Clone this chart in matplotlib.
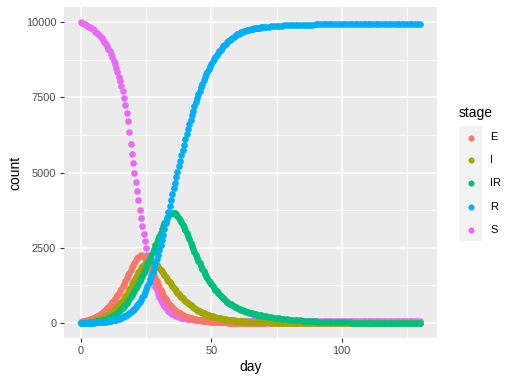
import matplotlib
matplotlib.use("Agg")
import matplotlib.pyplot as plt
from matplotlib.patches import Rectangle
from matplotlib.lines import Line2D

plt.rcParams['font.family'] = ['Liberation Sans', 'DejaVu Sans']

# counts: every half day up to day 70, then daily
day = [i / 2 for i in range(141)] + list(range(71, 131))

S = [10000, 9975, 9950, 9925, 9900, 9875, 9850, 9820, 9790, 9755,
     9720, 9680, 9640, 9600, 9560, 9510, 9460, 9405, 9350, 9280,
     9200, 9120, 9030, 8930, 8830, 8720, 8600, 8470, 8340, 8190,
     8040, 7880, 7700, 7490, 7250, 6990, 6700, 6340, 5950, 5620,
     5300, 5000, 4700, 4390, 4080, 3770, 3480, 3210, 2950, 2710,
     2480, 2260, 2060, 1860, 1680, 1510, 1350, 1210, 1080, 965,
     860, 770, 690, 620, 555, 500, 452, 410, 372, 340,
     310, 284, 260, 240, 222, 206, 192, 180, 169, 160,
     152, 144, 137, 131, 125, 120, 115, 111, 107, 103,
     100, 97, 94, 91, 89, 87, 85, 83, 81, 80,
     78, 77, 76, 75, 74, 73, 72, 71, 70, 70,
     69, 68, 68, 67, 67, 66, 66, 65, 65, 65,
     64, 64, 64, 63, 63, 63, 62, 62, 62, 62,
     61, 61, 61, 61, 61, 60, 60, 60, 60, 60,
     60] + [60] * 60

E = [40, 50, 60, 70, 80, 92, 105, 120, 135, 152,
     170, 192, 215, 242, 270, 302, 335, 372, 410, 452,
     495, 542, 590, 642, 695, 752, 810, 872, 935, 1002,
     1070, 1145, 1225, 1310, 1400, 1490, 1580, 1670, 1760, 1845,
     1930, 2005, 2080, 2145, 2200, 2230, 2250, 2240, 2210, 2165,
     2110, 2040, 1960, 1870, 1780, 1680, 1580, 1485, 1390, 1295,
     1200, 1110, 1025, 945, 865, 790, 720, 665, 610, 560,
     515, 475, 440, 405, 375, 345, 318, 292, 268, 245,
     225, 207, 190, 175, 162, 150, 138, 127, 117, 108,
     100, 92, 85, 78, 72, 66, 61, 56, 52, 48,
     44, 41, 38, 35, 32, 30, 27, 25, 23, 21,
     20, 18, 17, 15, 14, 13, 12, 11, 10, 9,
     9, 8, 7, 7, 6, 6, 5, 5, 4, 4,
     4, 3, 3, 3, 3, 2, 2, 2, 2, 2,
     1] + [1] * 10 + [0] * 50

I = [0, 5, 10, 15, 20, 27, 35, 42, 50, 60,
     70, 82, 95, 110, 125, 142, 160, 180, 200, 225,
     250, 280, 310, 345, 380, 420, 460, 505, 550, 600,
     650, 710, 770, 835, 900, 970, 1040, 1120, 1200, 1280,
     1360, 1440, 1520, 1600, 1680, 1750, 1820, 1880, 1930, 1975,
     2010, 2035, 2050, 2055, 2050, 2030, 2000, 1965, 1920, 1870,
     1820, 1765, 1710, 1650, 1590, 1530, 1470, 1410, 1350, 1290,
     1230, 1175, 1120, 1065, 1010, 960, 910, 865, 820, 777,
     735, 695, 655, 620, 585, 552, 520, 490, 460, 435,
     410, 387, 365, 345, 325, 307, 290, 274, 258, 244,
     230, 217, 204, 192, 181, 170, 160, 151, 142, 134,
     126, 119, 112, 105, 99, 93, 88, 83, 78, 73,
     69, 65, 61, 57, 54, 51, 48, 45, 42, 40,
     37, 35, 33, 31, 29, 27, 26, 24, 23, 21,
     20,
     18, 16, 14, 12, 11, 10, 9, 8, 7,
     6, 5, 5, 4, 4, 3, 3, 3, 2, 2] + [1] * 10 + [0] * 31

IR = [0, 2, 5, 7, 10, 12, 15, 20, 25, 30,
      35, 42, 50, 57, 65, 75, 85, 97, 110, 125,
      140, 160, 180, 202, 225, 252, 280, 312, 345, 382,
      420, 465, 510, 560, 610, 670, 730, 800, 870, 935,
      1000, 1075, 1150, 1230, 1310, 1395, 1480, 1570, 1660, 1755,
      1850, 1950, 2050, 2155, 2260, 2365, 2470, 2580, 2690, 2795,
      2900, 3005, 3110, 3210, 3310, 3400, 3480, 3550, 3610, 3650,
      3670, 3665, 3640, 3605, 3560, 3500, 3430, 3355, 3270, 3180,
      3080, 2980, 2880, 2775, 2670, 2565, 2460, 2360, 2260, 2165,
      2070, 1980, 1890, 1805, 1720, 1640, 1560, 1485, 1410, 1345,
      1280, 1220, 1160, 1105, 1050, 1000, 950, 905, 860, 820,
      780, 745, 710, 677, 645, 617, 590, 565, 540, 517,
      495, 475, 455, 437, 420, 405, 390, 375, 360, 347,
      335, 322, 310, 300, 290, 280, 270, 260, 250, 241,
      232,
      215, 200, 186, 173, 160, 150, 140, 130, 120,
      112, 104, 96, 89, 82, 76, 70, 64, 59, 54,
      50, 46, 42, 39, 36, 33, 30, 28, 26, 24,
      22, 20, 18, 17, 15, 14, 13, 12, 11, 10,
      9, 8, 8, 7, 6, 6, 5, 5, 4, 4,
      4, 3, 3, 3, 2, 2, 2, 2, 1, 1, 1]

R = [0, 1, 2, 3, 4, 5, 7, 8, 10, 12,
     14, 16, 19, 22, 25, 28, 32, 36, 41, 46,
     52, 58, 65, 73, 82, 92, 102, 114, 127, 142,
     157, 175, 194, 215, 238, 264, 292, 323, 357, 395,
     435, 480, 528, 582, 640, 705, 775, 852, 935, 1025,
     1120, 1222, 1330, 1447, 1570, 1702, 1840, 1980, 2120, 2268,
     2420, 2583, 2750, 2933, 3120, 3310, 3500, 3695, 3890, 4085,
     4280, 4470, 4660, 4845, 5030, 5210, 5390, 5570, 5750, 5930,
     6100, 6270, 6440, 6600, 6760, 6910, 7060, 7200, 7340, 7470,
     7600, 7720, 7840, 7950, 8060, 8160, 8260, 8350, 8440, 8525,
     8610, 8690, 8765, 8835, 8905, 8970, 9030, 9085, 9140, 9190,
     9240, 9285, 9330, 9370, 9410, 9445, 9480, 9510, 9540, 9565,
     9590, 9612, 9634, 9654, 9673, 9690, 9706, 9721, 9735, 9748,
     9760, 9770, 9780, 9789, 9797, 9804, 9811, 9817, 9823, 9828,
     9833,
     9842, 9850, 9857, 9864, 9870, 9876, 9881, 9886, 9890,
     9894, 9898, 9901, 9904, 9907, 9910, 9912, 9914, 9916, 9918,
     9920, 9921, 9922, 9923, 9924, 9925, 9926, 9926, 9927, 9927] + [9928] * 31

stages = ["E", "I", "IR", "R", "S"]
series = {"S": S, "E": E, "I": I, "IR": IR, "R": R}
colors = {"E": "#F8766D", "I": "#A3A500", "IR": "#00BF7D", "R": "#00B0F6", "S": "#E76BF3"}
draw_order = ["S", "E", "I", "IR", "R"]

for st in stages:
    assert len(series[st]) == len(day), st

W, H = 516, 381
fig = plt.figure(figsize=(W / 100, H / 100), dpi=100)
ax = fig.add_axes([64 / W, 1 - 338 / H, (437 - 64) / W, (338 - 7) / H])
ax.set_facecolor("#EBEBEB")
for sp in ax.spines.values():
    sp.set_visible(False)

for z, st in enumerate(draw_order):
    ax.scatter(day, series[st], s=23, color=colors[st], linewidths=0, zorder=3 + z)

ax.set_xlim(-6.5, 136.5)
ax.set_ylim(-500, 10500)
ax.set_xticks([0, 50, 100])
ax.set_xticks([25, 75, 125], minor=True)
ax.set_yticks([0, 2500, 5000, 7500, 10000])
ax.set_yticks([1250, 3750, 6250, 8750], minor=True)
ax.grid(which="major", color="white", lw=1.1)
ax.grid(which="minor", color="white", lw=0.55)
ax.set_axisbelow(True)
ax.tick_params(which="major", length=3, width=0.8, color="#333333",
               labelsize=7.9, labelcolor="#4D4D4D", pad=2.5)
ax.tick_params(which="minor", length=0)

fig.text((64 + 437) / 2 / W, 1 - 367 / H, "day", ha="center", va="center", fontsize=10)
fig.text(15 / W, 1 - 173 / H, "count", ha="center", va="center", rotation=90, fontsize=10)

# legend
fig.text(459 / W, 1 - 113 / H, "stage", ha="left", va="center", fontsize=10)
for i, st in enumerate(stages):
    yc = 137.5 + 23 * i
    fig.add_artist(Rectangle((459 / W, 1 - (yc + 11.5) / H), 23 / W, 23 / H,
                             transform=fig.transFigure, color="#F2F2F2", lw=0))
    fig.add_artist(Line2D([470.7 / W], [1 - yc / H], marker="o", ms=4.4, lw=0,
                          markeredgewidth=0, color=colors[st], transform=fig.transFigure))
    fig.text(490 / W, 1 - yc / H, st, ha="left", va="center", fontsize=7.9)

fig.savefig("out.png", dpi=100)
